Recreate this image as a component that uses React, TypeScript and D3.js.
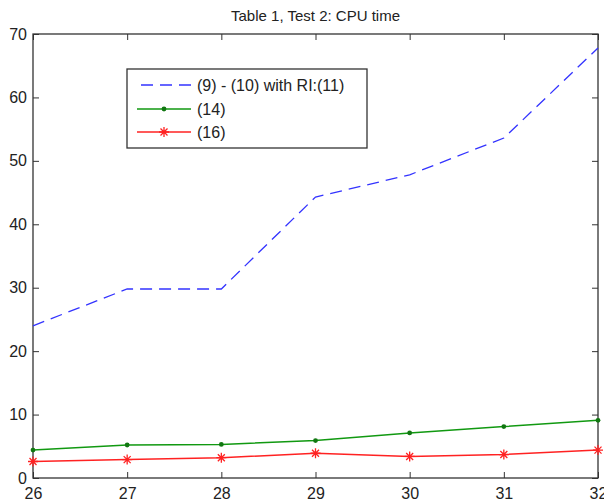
import React, { useEffect, useRef } from 'react';
import * as d3 from 'd3';

const xValues = [26, 27, 28, 29, 30, 31, 32];
const seriesRI = [24.0, 29.8, 29.8, 44.3, 47.8, 53.6, 67.8];
const series14 = [4.4, 5.2, 5.3, 5.9, 7.1, 8.1, 9.1];
const series16 = [2.6, 2.9, 3.2, 3.9, 3.4, 3.7, 4.4];
const yTicks = [0, 10, 20, 30, 40, 50, 60, 70];
const legendLabels = ['(9) - (10) with RI:(11)', '(14)', '(16)'];
const title = 'Table 1, Test 2: CPU time';

const App = () => {
  const ref = useRef<SVGSVGElement | null>(null);

  useEffect(() => {
    const width = 604;
    const height = 502;
    const margin = { left: 33, right: 6, top: 34, bottom: 24 };
    const w = width - margin.left - margin.right;
    const h = height - margin.top - margin.bottom;

    const svg = d3.select(ref.current);
    svg.selectAll('*').remove();
    svg.attr('width', width).attr('height', height);

    svg.append('rect').attr('width', width).attr('height', height).attr('fill', '#fff');

    const g = svg.append('g').attr('transform', `translate(${margin.left}, ${margin.top})`);

    const x = d3.scaleLinear().domain([26, 32]).range([0, w]);
    const y = d3.scaleLinear().domain([0, 70]).range([h, 0]);

    const font = 'Liberation Sans, Arial, sans-serif';

    // title
    svg.append('text')
      .attr('x', margin.left + w / 2)
      .attr('y', 21)
      .attr('text-anchor', 'middle')
      .attr('font-family', font)
      .attr('font-size', '15px')
      .attr('fill', '#222')
      .text(title);

    // axes, ticks pointing inward on all sides
    const tickLen = 6;
    const axisStyle = (sel: any) => {
      sel.select('.domain').remove();
      sel.selectAll('line').attr('stroke', '#333');
      sel.selectAll('text').attr('font-family', font).attr('font-size', '16px').attr('fill', '#222');
    };

    g.append('g')
      .attr('transform', `translate(0, ${h})`)
      .call(d3.axisBottom(x).tickValues(xValues).tickFormat(d3.format('d')).tickSizeInner(-tickLen).tickPadding(10))
      .call(axisStyle);

    g.append('g')
      .call(d3.axisTop(x).tickValues(xValues).tickFormat(() => '').tickSizeInner(-tickLen))
      .call(axisStyle);

    g.append('g')
      .call(d3.axisLeft(y).tickValues(yTicks).tickFormat(d3.format('d')).tickSizeInner(-tickLen).tickPadding(6))
      .call(axisStyle);

    g.append('g')
      .attr('transform', `translate(${w}, 0)`)
      .call(d3.axisRight(y).tickValues(yTicks).tickFormat(() => '').tickSizeInner(-tickLen))
      .call(axisStyle);

    g.append('rect')
      .attr('width', w)
      .attr('height', h)
      .attr('fill', 'none')
      .attr('stroke', '#333')
      .attr('stroke-width', 1.3);

    const line = d3.line<number>()
      .x((_, i) => x(xValues[i]))
      .y(d => y(d));

    // blue dashed
    g.append('path')
      .datum(seriesRI)
      .attr('d', line)
      .attr('fill', 'none')
      .attr('stroke', '#3333ff')
      .attr('stroke-width', 1.3)
      .attr('stroke-dasharray', '12,7');

    // green with dots
    g.append('path')
      .datum(series14)
      .attr('d', line)
      .attr('fill', 'none')
      .attr('stroke', '#119911')
      .attr('stroke-width', 1.5);
    g.selectAll('.dot14')
      .data(series14)
      .enter()
      .append('circle')
      .attr('class', 'dot14')
      .attr('cx', (_, i) => x(xValues[i]))
      .attr('cy', d => y(d))
      .attr('r', 2.4)
      .attr('fill', '#117711');

    // red with asterisks
    g.append('path')
      .datum(series16)
      .attr('d', line)
      .attr('fill', 'none')
      .attr('stroke', '#ff2222')
      .attr('stroke-width', 1.5);

    const star = (sel: any, cx: number, cy: number) => {
      const s = 5;
      const d = `M${cx - s},${cy}L${cx + s},${cy}M${cx},${cy - s}L${cx},${cy + s}` +
        `M${cx - s * 0.7},${cy - s * 0.7}L${cx + s * 0.7},${cy + s * 0.7}` +
        `M${cx - s * 0.7},${cy + s * 0.7}L${cx + s * 0.7},${cy - s * 0.7}`;
      sel.append('path').attr('d', d).attr('stroke', '#ff2222').attr('stroke-width', 1.3).attr('fill', 'none');
    };
    series16.forEach((v, i) => star(g, x(xValues[i]), y(v)));

    // legend
    const lg = svg.append('g').attr('transform', 'translate(127, 69)');
    lg.append('rect')
      .attr('width', 240)
      .attr('height', 79)
      .attr('fill', '#fff')
      .attr('stroke', '#333')
      .attr('stroke-width', 1.3);

    const rows = [16, 40, 63];
    const x0 = 10;
    const x1 = 64;
    lg.append('line')
      .attr('x1', x0 + 4).attr('x2', x1).attr('y1', rows[0]).attr('y2', rows[0])
      .attr('stroke', '#3333ff').attr('stroke-width', 1.3).attr('stroke-dasharray', '12,7');
    lg.append('line')
      .attr('x1', x0).attr('x2', x1).attr('y1', rows[1]).attr('y2', rows[1])
      .attr('stroke', '#119911').attr('stroke-width', 1.5);
    lg.append('circle')
      .attr('cx', (x0 + x1) / 2).attr('cy', rows[1]).attr('r', 2.4).attr('fill', '#117711');
    lg.append('line')
      .attr('x1', x0).attr('x2', x1).attr('y1', rows[2]).attr('y2', rows[2])
      .attr('stroke', '#ff2222').attr('stroke-width', 1.5);
    star(lg, (x0 + x1) / 2, rows[2]);

    legendLabels.forEach((label, i) => {
      lg.append('text')
        .attr('x', 70)
        .attr('y', rows[i] + 6)
        .attr('font-family', font)
        .attr('font-size', '16px')
        .attr('fill', '#222')
        .text(label);
    });
  }, []);

  return (
    <div style={{ position: 'absolute', left: 0, top: 0 }}>
      <svg ref={ref} style={{ display: 'block' }} />
    </div>
  );
};

export default App;
